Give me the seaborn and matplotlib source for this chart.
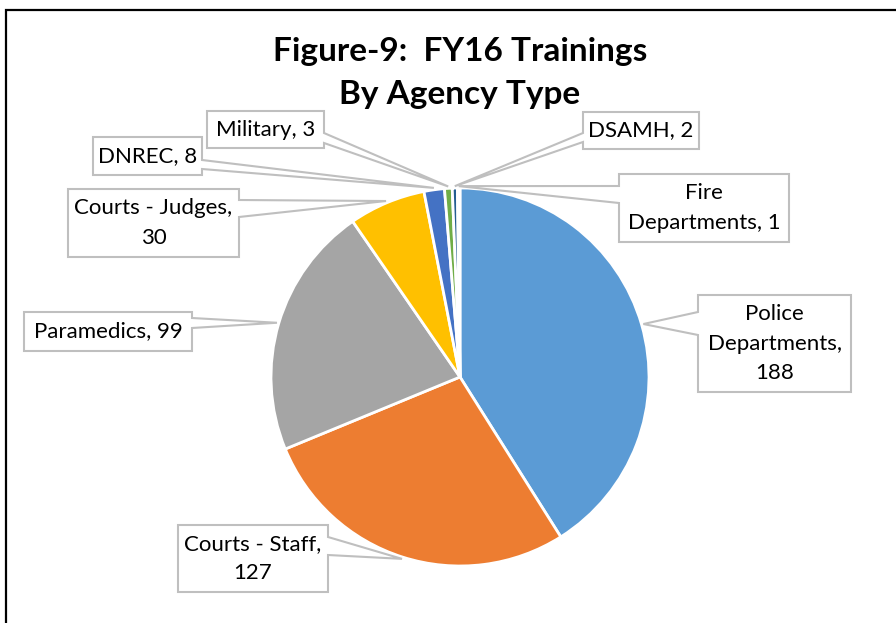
import textwrap
import matplotlib.pyplot as plt
import seaborn as sns
from matplotlib.patches import Polygon, Rectangle
import numpy as np

# -----------------------------
# Data
# -----------------------------
agencies = ["Police Departments", "Courts - Staff", "Paramedics", "Courts - Judges",
            "DNREC", "Military", "DSAMH", "Fire Departments"]
trainings = [188, 127, 99, 30, 8, 3, 2, 1]
colors = ["#5B9BD5", "#ED7D31", "#A5A5A5", "#FFC000",
          "#4472C4", "#70AD47", "#255E91", "#9E480E"]

# callout layout (pixels from top-left): box L, T, R, B, side of wedge, wedge base y1, y2, wrap width
callouts = [
    (698, 295, 851, 392, "left", 312, 335, 12),
    (178, 525, 328, 592, "right", 537, 555, 15),
    (24, 312, 192, 351, "right", 318, 328, 20),
    (68, 189, 239, 257, "right", 200, 217, 16),
    (93, 137, 202, 175, "right", 160, 169, 20),
    (207, 111, 324, 148, "right", 133, 143, 20),
    (583, 112, 699, 149, "left", 133, 142, 20),
    (619, 174, 789, 242, "left", 186, 203, 14),
]

W, H = 896, 623
sns.set_theme(style="white")
plt.rcParams["font.family"] = ["Lato", "DejaVu Sans"]

fig = plt.figure(figsize=(W / 100, H / 100), dpi=100)
ax = fig.add_axes([0, 0, 1, 1])

cx, cy, r = 460, H - 377, 189
wedges, _ = ax.pie(
    trainings,
    colors=sns.color_palette(colors),
    startangle=90,
    counterclock=False,
    center=(cx, cy),
    radius=r,
    wedgeprops=dict(edgecolor="white", linewidth=2),
)

ax.set_xlim(0, W)
ax.set_ylim(0, H)
ax.set_aspect("equal")
ax.axis("off")

# frame
ax.add_patch(Rectangle((6, -20), 920, H - 10 + 20, fill=False,
                       edgecolor="black", linewidth=1.6))

# title
ax.text(460, H - 73, "Figure-9:  FY16 Trainings\nBy Agency Type",
        ha="center", va="center", fontsize=24, fontweight="bold",
        linespacing=1.6, color="black")

# callouts
for w, name, val, (L, T, R, B, side, b1, b2, wrap) in zip(
        wedges, agencies, trainings, callouts):
    mid = np.deg2rad((w.theta1 + w.theta2) / 2)
    ax_, ay_ = cx + r * 1.01 * np.cos(mid), cy + r * 1.01 * np.sin(mid)
    T_, B_, b1_, b2_ = H - T, H - B, H - b1, H - b2
    if side == "right":
        pts = [(L, T_), (R, T_), (R, b1_), (ax_, ay_), (R, b2_), (R, B_), (L, B_)]
    else:
        pts = [(L, T_), (R, T_), (R, B_), (L, B_), (L, b2_), (ax_, ay_), (L, b1_)]
    ax.add_patch(Polygon(pts, closed=True, facecolor="white",
                         edgecolor="#BFBFBF", linewidth=1.5, zorder=3))
    label = textwrap.fill(f"{name}, {val}", wrap)
    ax.text((L + R) / 2, (T_ + B_) / 2, label, ha="center", va="center",
            fontsize=16, linespacing=1.6, color="black", zorder=4)

fig.savefig("out.png", dpi=100)
